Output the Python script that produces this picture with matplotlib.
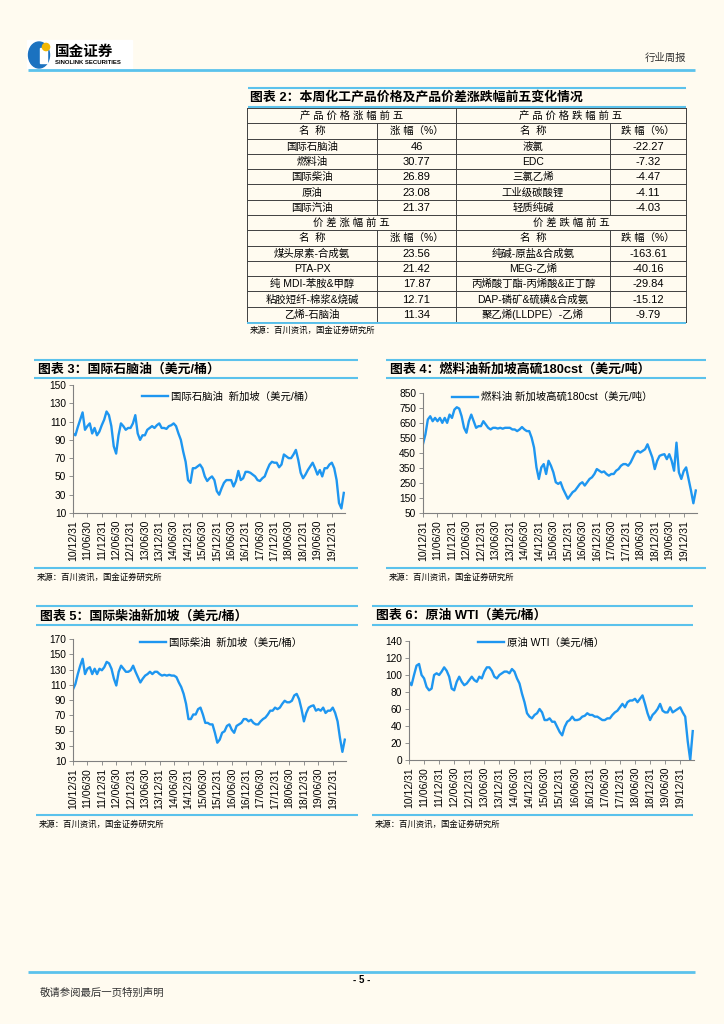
import matplotlib
matplotlib.use('Agg')
import matplotlib.pyplot as plt
from matplotlib.patches import Ellipse, Rectangle, Circle

plt.rcParams['font.family'] = ['Liberation Sans', 'Noto Sans CJK SC', 'DejaVu Sans']

# ---- data (monthly, 10/12 .. 20/05) ----
xtick_labels = ['10/12/31', '11/06/30', '11/12/31', '12/06/30', '12/12/31', '13/06/30',
                '13/12/31', '14/06/30', '14/12/31', '15/06/30', '15/12/31', '16/06/30',
                '16/12/31', '17/06/30', '17/12/31', '18/06/30', '18/12/31', '19/06/30',
                '19/12/31']

naphtha = [97, 95, 104, 112, 120, 101, 105, 108, 97, 103, 95, 99,
           106, 112, 121, 117, 105, 83, 75, 95, 108, 105, 101, 103,
           103, 108, 117, 97, 90, 95, 95, 101, 103, 105, 103, 106,
           108, 103, 103, 102, 105, 106, 108, 105, 97, 90, 77, 66,
           46, 43, 59, 59, 61, 63, 59, 50, 45, 48, 50, 46,
           34, 30, 37, 43, 46, 46, 46, 39, 45, 56, 46, 48,
           55, 55, 54, 52, 50, 46, 45, 48, 50, 57, 63, 66,
           65, 65, 60, 63, 74, 72, 70, 70, 74, 79, 68, 54,
           48, 52, 57, 61, 65, 59, 52, 57, 50, 59, 59, 63,
           65, 59, 46, 21, 15, 32]

fuel_oil = [510, 574, 673, 695, 662, 684, 662, 684, 651, 684, 651, 706,
            684, 739, 755, 746, 695, 618, 585, 662, 706, 662, 618, 629,
            629, 662, 640, 618, 607, 618, 618, 613, 618, 612, 618, 618,
            618, 607, 607, 596, 607, 623, 607, 596, 596, 552, 486, 354,
            277, 354, 376, 310, 398, 365, 321, 255, 244, 255, 211, 178,
            145, 167, 189, 200, 222, 244, 255, 233, 255, 277, 288, 310,
            343, 332, 321, 327, 310, 299, 310, 310, 332, 343, 365, 376,
            376, 365, 387, 420, 453, 464, 453, 464, 475, 508, 464, 420,
            343, 398, 431, 438, 442, 409, 442, 398, 332, 519, 321, 277,
            330, 354, 277, 200, 115, 200]

diesel = [104, 111, 124, 135, 144, 124, 131, 133, 124, 131, 124, 131,
          129, 133, 140, 138, 131, 118, 109, 127, 135, 131, 127, 127,
          129, 135, 127, 120, 113, 118, 122, 124, 127, 124, 127, 127,
          124, 122, 123, 122, 123, 122, 122, 120, 113, 107, 98, 85,
          65, 65, 71, 71, 78, 80, 71, 60, 60, 58, 58, 47,
          34, 38, 47, 49, 56, 58, 51, 47, 56, 58, 60, 65,
          65, 62, 64, 60, 58, 58, 62, 65, 67, 71, 76, 76,
          80, 78, 80, 85, 89, 87, 87, 89, 96, 98, 91, 78,
          62, 73, 80, 82, 83, 76, 78, 76, 80, 73, 76, 76,
          80, 73, 62, 40, 22, 38]

wti = [92, 88, 100, 111, 113, 100, 96, 86, 82, 84, 100, 102,
       100, 104, 109, 105, 98, 84, 82, 92, 98, 92, 88, 90,
       94, 98, 94, 92, 98, 96, 104, 109, 109, 105, 98, 96,
       100, 102, 104, 104, 102, 107, 104, 96, 90, 78, 68, 55,
       51, 49, 53, 55, 60, 56, 47, 47, 49, 45, 45, 39,
       33, 29, 39, 45, 47, 51, 47, 47, 48, 51, 52, 55,
       53, 53, 51, 51, 49, 47, 47, 49, 49, 53, 56, 58,
       62, 66, 62, 68, 70, 70, 72, 68, 72, 76, 66, 55,
       47, 53, 56, 60, 66, 58, 56, 56, 62, 56, 58, 60,
       62, 56, 51, 22, 0, 34]

# table 2
up_names = ['国际石脑油', '燃料油', '国际柴油', '原油', '国际汽油']
up_vals = ['46', '30.77', '26.89', '23.08', '21.37']
down_names = ['液氯', 'EDC', '三氯乙烯', '工业级碳酸锂', '轻质纯碱']
down_vals = ['-22.27', '-7.32', '-4.47', '-4.11', '-4.03']
spr_up_names = ['煤头尿素-合成氨', 'PTA-PX', '纯 MDI-苯胺&甲醇', '粘胶短纤-棉浆&烧碱', '乙烯-石脑油']
spr_up_vals = ['23.56', '21.42', '17.87', '12.71', '11.34']
spr_down_names = ['纯碱-原盐&合成氨', 'MEG-乙烯', '丙烯酸丁酯-丙烯酸&正丁醇', 'DAP-磷矿&硫磺&合成氨', '聚乙烯(LLDPE）-乙烯']
spr_down_vals = ['-163.61', '-40.16', '-29.84', '-15.12', '-9.79']

BG = '#FFFBF0'
RULE = '#5BC2EC'
LINE = '#1E96F0'
GRID = '#404040'
W, H = 724, 1024

fig = plt.figure(figsize=(7.24, 10.24), dpi=100, facecolor=BG)
page = fig.add_axes([0, 0, 1, 1])
page.set_xlim(0, W)
page.set_ylim(H, 0)
page.axis('off')


def rule(x0, x1, y, lw=1.5):
    page.plot([x0, x1], [y, y], color=RULE, lw=lw, solid_capstyle='butt')


# header
page.add_patch(Rectangle((27, 40), 105, 29, color='white'))
page.add_patch(Ellipse((39, 55), 21, 26, color='#1B72C0'))
page.add_patch(Rectangle((40, 48), 7, 15, color='white'))
page.add_patch(Circle((46, 47), 3.6, color='#F2B705'))
page.text(55, 52, '国金证券', fontsize=10.5, fontweight='bold', va='center')
page.text(55, 63, 'SINOLINK SECURITIES', fontsize=4.3, fontweight='bold', va='center')
page.text(686, 58, '行业周报', fontsize=7.5, ha='right', va='center', color='#333333')
rule(28, 695, 70, 2)

# table
rule(248, 686, 88)
page.text(250, 97, '图表 2：本周化工产品价格及产品价差涨跌幅前五变化情况', fontsize=9.3,
          fontweight='bold', va='center')
rule(248, 686, 107)
ys = [108 + i * (322 - 108) / 14 for i in range(15)]
cols = [247, 377, 456, 610, 686]
for y in ys:
    page.plot([cols[0], cols[-1]], [y, y], color=GRID, lw=0.7)
for x in [cols[0], cols[2], cols[4]]:
    page.plot([x, x], [ys[0], ys[-1]], color=GRID, lw=0.7)
for x in [cols[1], cols[3]]:
    page.plot([x, x], [ys[1], ys[7]], color=GRID, lw=0.7)
    page.plot([x, x], [ys[8], ys[14]], color=GRID, lw=0.7)
rule(247, 686, 323, 1.4)


def cell(text, c0, c1, r, size=7.5):
    page.text((cols[c0] + cols[c1]) / 2, (ys[r] + ys[r + 1]) / 2 + 0.5, text,
              fontsize=size, ha='center', va='center')


cell('产 品 价 格 涨 幅 前 五', 0, 2, 0)
cell('产 品 价 格 跌 幅 前 五', 2, 4, 0)
cell('价 差 涨 幅 前 五', 0, 2, 7)
cell('价 差 跌 幅 前 五', 2, 4, 7)
for r in [1, 8]:
    cell('名  称', 0, 1, r)
    cell('涨 幅（%）', 1, 2, r)
    cell('名  称', 2, 3, r)
    cell('跌 幅（%）', 3, 4, r)
for i in range(5):
    cell(up_names[i], 0, 1, 2 + i, 7.5)
    cell(up_vals[i], 1, 2, 2 + i, 8)
    cell(down_names[i], 2, 3, 2 + i, 7.5)
    cell(down_vals[i], 3, 4, 2 + i, 8)
    cell(spr_up_names[i], 0, 1, 9 + i, 7.5)
    cell(spr_up_vals[i], 1, 2, 9 + i, 8)
    cell(spr_down_names[i], 2, 3, 9 + i, 7.5)
    cell(spr_down_vals[i], 3, 4, 9 + i, 8)
page.text(250, 331, '来源：百川资讯，国金证券研究所', fontsize=6, va='center')


def chart(box, hdr, title, values, ylim, ystep, label, leg_xy):
    l, t, r, b = box
    ax = fig.add_axes([l / W, 1 - b / H, (r - l) / W, (b - t) / H])
    ax.set_facecolor('none')
    ax.plot(range(len(values)), values, color=LINE, lw=1.7, label=label)
    ax.set_xlim(0, 113.5)
    ax.set_ylim(*ylim)
    ax.set_yticks(range(ylim[0], ylim[1] + 1, ystep))
    ax.set_xticks(range(0, 109, 6))
    ax.set_xticklabels(xtick_labels, rotation=90)
    for s in ['top', 'right']:
        ax.spines[s].set_visible(False)
    for s in ['left', 'bottom']:
        ax.spines[s].set_color('#808080')
        ax.spines[s].set_linewidth(0.8)
    ax.tick_params(axis='y', labelsize=7.3, length=3, width=0.6, color='#808080', pad=2)
    ax.tick_params(axis='x', labelsize=7.5, length=3, width=0.6, color='#808080', pad=2)
    ax.legend(loc='center left', bbox_to_anchor=(leg_xy[0] / W, 1 - leg_xy[1] / H),
              bbox_transform=fig.transFigure, frameon=False, borderpad=0,
              handlelength=2.5, handletextpad=0.3, fontsize=7.5)
    x0, x1, ytop, ybot, ysrc = hdr
    rule(x0, x1, ytop)
    page.text(x0 + 4, (ytop + ybot) / 2 + 0.5, title, fontsize=9.3, fontweight='bold', va='center')
    rule(x0, x1, ybot)
    rule(x0, x1, ysrc)
    page.text(x0 + 3, ysrc + 10, '来源：百川资讯，国金证券研究所', fontsize=6, va='center')
    return ax


chart((73, 385, 345, 513), (34, 358, 360, 378, 568), '图表 3：国际石脑油（美元/桶）',
      naphtha, (10, 150), 20, '国际石脑油  新加坡（美元/桶）', (137, 397))
chart((423, 393, 697, 513), (386, 706, 360, 378, 568), '图表 4：燃料油新加坡高硫180cst（美元/吨）',
      fuel_oil, (50, 850), 100, '燃料油 新加坡高硫180cst（美元/吨）', (447, 397))
chart((73, 639, 346, 761), (36, 358, 606, 625, 815), '图表 5：国际柴油新加坡（美元/桶）',
      diesel, (10, 170), 20, '国际柴油  新加坡（美元/桶）', (135, 643))
chart((409, 641, 694, 760), (372, 693, 606, 625, 815), '图表 6：原油 WTI（美元/桶）',
      wti, (0, 140), 20, '原油 WTI（美元/桶）', (473, 643))

# footer
rule(28, 695, 972, 2)
page.text(362, 980, '- 5 -', fontsize=7, fontweight='bold', ha='center', va='center')
page.text(40, 993, '敬请参阅最后一页特别声明', fontsize=7.5, va='center', color='#333333')

fig.savefig('out.png', dpi=100, facecolor=BG)
